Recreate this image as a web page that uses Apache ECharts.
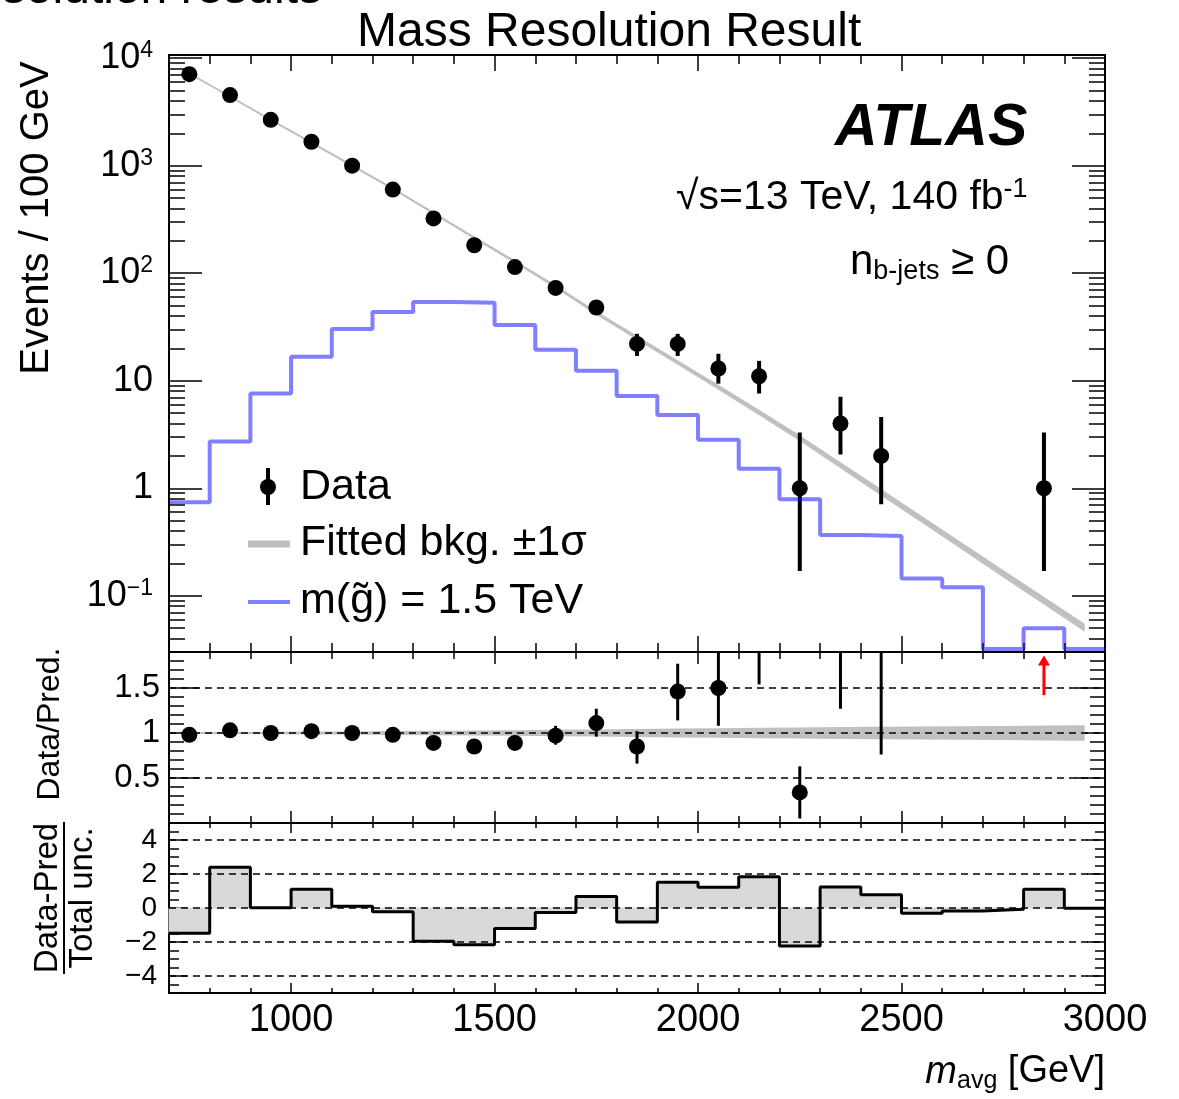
<!DOCTYPE html>
<html>
<head>
<meta charset="utf-8">
<script src="https://cdn.jsdelivr.net/npm/echarts@6.0.0/dist/echarts.min.js"></script>
<style>html,body{margin:0;padding:0;background:#fff}#main{width:1179px;height:1099px}</style>
</head>
<body>
<div id="main"></div>
<script>
// bins (100 GeV wide)
var binCenters = [750,850,950,1050,1150,1250,1350,1450,1550,1650,1750,1850,1950,2050,2150,2250,2350,2450,2550,2650,2750,2850,2950];
var binEdges = [700,800,900,1000,1100,1200,1300,1400,1500,1600,1700,1800,1900,2000,2100,2200,2300,2400,2500,2600,2700,2800,2900,3000];

// top panel
var dataCounts = [7100,4540,2670,1670,1000,600,323,182,114,73,48,22,22,13,11,1,4,2,null,null,null,1,null];
var dataLow  = [7016,4473,2618,1629,968,576,305,169,103.5,64.5,41.1,17.0,17.0,9.4,7.6,0.17,2.06,0.71,null,null,null,0.17,null];
var dataHigh = [7184,4607,2722,1711,1032,624,341,196,124.5,81.5,54.9,27.3,27.3,17.8,15.3,3.3,7.1,4.6,null,null,null,3.3,null];
var bkgFit = [7200,4400,2670,1640,1000,612,363,214,128,75,42.7,25.1,14.8,8.7,5.07,2.93,1.64,0.918,0.514,0.288,0.161,0.0904,0.0506];
var bkgRelUnc = [0.01,0.012,0.014,0.016,0.018,0.021,0.024,0.027,0.031,0.035,0.04,0.045,0.05,0.054,0.058,0.062,0.066,0.07,0.073,0.076,0.079,0.082,0.085];
var signal = [0.74,2.72,7.6,16.7,30.3,43.6,54,53,33,19.4,12.4,7.2,4.8,2.83,1.52,0.79,0.367,0.36,0.145,0.12,0.032,0.05,0.032];

// ratio panel
var ratioVals = [0.98,1.03,1.0,1.02,1.0,0.98,0.89,0.85,0.89,0.97,1.11,0.85,1.46,1.50,2.12,0.34,2.4,2.17,null,null,null,11,null];
var ratioLow  = [0.97,1.02,0.99,1.0,0.98,0.96,0.87,0.82,0.85,0.87,0.96,0.66,1.14,1.08,1.54,0.05,1.27,0.76,null,null,null,null,null];
var ratioHigh = [0.99,1.04,1.01,1.04,1.02,1.0,0.91,0.88,0.93,1.08,1.27,1.02,1.77,1.92,2.9,0.63,4.2,4.9,null,null,null,null,null];
var arrowX = [2850];
var arrowFrom = [1.42];
var arrowTo = [1.86];

// significance panel
var signif = [-1.49,2.39,0.02,1.10,0.10,-0.22,-1.96,-2.16,-1.20,-0.27,0.67,-0.82,1.51,1.22,1.84,-2.24,1.24,0.78,-0.31,-0.18,-0.08,1.10,-0.02];

// ticks
var xMajor = [1000,1500,2000,2500,3000];
var logMajor = [0.1,1,10,100,1000,10000];
var logMinor = [];
[0.01,0.1,1,10,100,1000].forEach(function (d) {
    for (var k = 2; k <= 9; k++) logMinor.push(+(k * d).toPrecision(3));
});
var ratioMajor = [0.5,1,1.5];
var ratioMinor = [0.1,0.2,0.3,0.4,0.6,0.7,0.8,0.9,1.1,1.2,1.3,1.4,1.6,1.7,1.8];
var ratioLines = [0.5,1,1.5];
var sigMajor = [-4,-2,0,2,4];
var sigMinor = [-4.5,-3.5,-3,-2.5,-1.5,-1,-0.5,0.5,1,1.5,2.5,3,3.5,4.5];
var sigLines = [-4,-2,0,2,4];

var FONT = "'Liberation Sans', Arial, sans-serif";
var myChart = echarts.init(document.getElementById('main'));

var xAxes = [], yAxes = [];
var lineBlack = {color:'#000', width:2};
var tickBlack = {color:'#000', width:1.5};

function addX(grid, pos, minorLen, majorLen, label) {
    xAxes.push({type:'value', gridIndex:grid, position:pos, min:700, max:3000, interval:100,
        axisLine:{onZero:false, lineStyle:lineBlack},
        axisTick:{inside:true, length:minorLen, lineStyle:tickBlack},
        axisLabel:{show:false}, splitLine:{show:false}});
    xAxes.push({type:'value', gridIndex:grid, position:pos, min:700, max:3000,
        axisLine:{show:false, onZero:false},
        axisTick:{inside:true, length:majorLen, customValues:xMajor, lineStyle:tickBlack},
        axisLabel:label ? {show:true, customValues:xMajor, color:'#000', fontSize:38, fontFamily:FONT, margin:9,
                           formatter:function (v) { return String(v); }} : {show:false},
        splitLine:{show:false}});
}

function addY(grid, pos, type, min, max, minorVals, majorVals, minorLen, majorLen, label) {
    var base = {type:type, gridIndex:grid, position:pos, min:min, max:max, splitLine:{show:false}};
    if (type === 'log') base.logBase = 10;
    yAxes.push(Object.assign({}, base, {
        axisLine:{onZero:false, lineStyle:lineBlack},
        axisTick:{inside:true, length:minorLen, customValues:minorVals, lineStyle:tickBlack},
        axisLabel:{show:false}}));
    var lab = {show:false};
    if (label) lab = Object.assign({show:true, customValues:majorVals, color:'#000', fontFamily:FONT}, label);
    yAxes.push(Object.assign({}, base, {
        axisLine:{show:false, onZero:false},
        axisTick:{inside:true, length:majorLen, customValues:majorVals, lineStyle:tickBlack},
        axisLabel:lab}));
}

function logLabel(v) {
    var e = Math.round(Math.log10(v));
    if (e === 0) return '1';
    if (e === 1) return '10';
    return '10{s|' + (e < 0 ? '\u2212' + (-e) : e) + '}';
}

// grid 0: top, grid 1: ratio, grid 2: significance
addX(0, 'bottom', 9, 16, false); addX(0, 'top', 9, 16, false);
addX(1, 'bottom', 7, 12, false); addX(1, 'top', 7, 12, false);
addX(2, 'bottom', 5, 10, true);  addX(2, 'top', 5, 10, false);

addY(0, 'left', 'log', 0.03, 10700, logMinor, logMajor, 16, 33,
    {fontSize:36, margin:16, formatter:logLabel,
     rich:{s:{fontSize:23, fontFamily:FONT, color:'#000', verticalAlign:'top', padding:[0,0,15,0]}}});
addY(0, 'right', 'log', 0.03, 10700, logMinor, logMajor, 16, 33, null);
addY(1, 'left', 'value', 0, 1.9, ratioMinor, ratioMajor, 15, 30,
    {fontSize:33, margin:9});
addY(1, 'right', 'value', 0, 1.9, ratioMinor, ratioMajor, 15, 30, null);
addY(2, 'left', 'value', -5, 5, sigMinor, sigMajor, 10, 18,
    {fontSize:28, margin:12, formatter:function (v) { return String(v).replace('-', '\u2212'); }});
addY(2, 'right', 'value', -5, 5, sigMinor, sigMajor, 10, 18, null);

// derived tables
var bkgLo = [], bkgHi = [], rLo = [], rHi = [];
for (var i = 0; i < binCenters.length; i++) {
    bkgLo.push(bkgFit[i] * (1 - bkgRelUnc[i]));
    bkgHi.push(bkgFit[i] * (1 + bkgRelUnc[i]));
    rLo.push(1 - bkgRelUnc[i]);
    rHi.push(1 + bkgRelUnc[i]);
}
var topPoints = [], topErr = [], ratioPoints = [], ratioErr = [];
for (var i = 0; i < binCenters.length; i++) {
    if (dataCounts[i] != null) topPoints.push([binCenters[i], dataCounts[i]]);
    if (dataLow[i] != null) topErr.push([binCenters[i], dataLow[i], dataHigh[i]]);
    if (ratioVals[i] != null) ratioPoints.push([binCenters[i], ratioVals[i]]);
    if (ratioLow[i] != null) ratioErr.push([binCenters[i], ratioLow[i], ratioHigh[i]]);
}
var bkgLine = binCenters.map(function (x, i) { return [x, bkgFit[i]]; });
var sigStep = binEdges.map(function (x, i) { return [x, signal[Math.min(i, signal.length - 1)]]; });
var signifStep = binEdges.map(function (x, i) { return [x, signif[Math.min(i, signif.length - 1)]]; });
var signifBars = signif.map(function (v, i) { return [binEdges[i], binEdges[i + 1], v]; });
var arrows = arrowX.map(function (x, i) { return [x, arrowFrom[i], arrowTo[i]]; });

function bandRender(xs, lo, hi, color) {
    return function (params, api) {
        if (params.dataIndex !== 0) return;
        var pts = [];
        for (var i = 0; i < xs.length; i++) pts.push(api.coord([xs[i], hi[i]]));
        for (var i = xs.length - 1; i >= 0; i--) pts.push(api.coord([xs[i], lo[i]]));
        return {type:'polygon', shape:{points:pts}, style:{fill:color}};
    };
}

function errRender(width) {
    return function (params, api) {
        var p1 = api.coord([api.value(0), api.value(1)]);
        var p2 = api.coord([api.value(0), api.value(2)]);
        return {type:'line', shape:{x1:p1[0], y1:p1[1], x2:p2[0], y2:p2[1]},
            style:{stroke:'#000', lineWidth:width}};
    };
}

var dashStyle = {color:'#000', type:[7,5], width:1.5};

var option = {
    animation: false,
    backgroundColor: '#fff',
    grid: [
        {left:169, top:55, width:936, height:597},
        {left:169, top:652, width:936, height:171},
        {left:169, top:823, width:936, height:170}
    ],
    xAxis: xAxes,
    yAxis: yAxes,
    series: [
        // top panel
        {type:'custom', xAxisIndex:0, yAxisIndex:0, z:1, clip:true,
         renderItem:bandRender(binCenters, bkgLo, bkgHi, '#c0c0c0'), data:[[binCenters[0], bkgFit[0]]]},
        {type:'line', xAxisIndex:0, yAxisIndex:0, z:2, data:bkgLine, showSymbol:false,
         lineStyle:{color:'#c0c0c0', width:2}},
        {type:'custom', xAxisIndex:0, yAxisIndex:0, z:3, clip:true,
         renderItem:errRender(4), data:topErr},
        {type:'scatter', xAxisIndex:0, yAxisIndex:0, z:4, data:topPoints, symbolSize:16,
         itemStyle:{color:'#000', opacity:1}},
        {type:'line', xAxisIndex:0, yAxisIndex:0, z:5, step:'end', data:sigStep, showSymbol:false,
         lineStyle:{color:'rgba(0,0,255,0.5)', width:4}},
        // ratio panel
        {type:'custom', xAxisIndex:4, yAxisIndex:4, z:1, clip:true,
         renderItem:bandRender(binCenters, rLo, rHi, '#c0c0c0'), data:[[binCenters[0], 1]]},
        {type:'custom', xAxisIndex:4, yAxisIndex:4, z:3, clip:true,
         renderItem:errRender(3), data:ratioErr},
        {type:'scatter', xAxisIndex:4, yAxisIndex:4, z:4, data:ratioPoints, symbolSize:16, clip:true,
         itemStyle:{color:'#000', opacity:1},
         markLine:{silent:true, symbol:['none','none'], label:{show:false}, lineStyle:dashStyle,
                   data:ratioLines.map(function (v) { return {yAxis:v}; })}},
        {type:'custom', xAxisIndex:4, yAxisIndex:4, z:5, data:arrows,
         renderItem:function (params, api) {
             var p1 = api.coord([api.value(0), api.value(1)]);
             var p2 = api.coord([api.value(0), api.value(2)]);
             return {type:'group', children:[
                 {type:'line', shape:{x1:p1[0], y1:p1[1], x2:p2[0], y2:p2[1] + 8}, style:{stroke:'#ff0000', lineWidth:3}},
                 {type:'polygon', shape:{points:[[p2[0] - 6, p2[1] + 10], [p2[0] + 6, p2[1] + 10], [p2[0], p2[1]]]}, style:{fill:'#ff0000'}}
             ]};
         }},
        // significance panel
        {type:'custom', xAxisIndex:8, yAxisIndex:8, z:1, data:signifBars,
         renderItem:function (params, api) {
             var a = api.coord([api.value(0), 0]);
             var b = api.coord([api.value(1), api.value(2)]);
             return {type:'rect', shape:{x:a[0], y:Math.min(a[1], b[1]), width:b[0] - a[0], height:Math.abs(b[1] - a[1])},
                 style:{fill:'#d9d9d9', stroke:'#d9d9d9', lineWidth:1}};
         }},
        {type:'line', xAxisIndex:8, yAxisIndex:8, z:3, step:'end', data:signifStep, showSymbol:false,
         lineStyle:{color:'#000', width:3},
         markLine:{silent:true, symbol:['none','none'], label:{show:false}, lineStyle:dashStyle,
                   data:sigLines.map(function (v) { return {yAxis:v}; })}}
    ],
    graphic: [
        {type:'text', x:322, y:14, style:{text:'solution results', fontSize:48, fontFamily:FONT, fill:'#000',
            textAlign:'right', textVerticalAlign:'bottom'}},
        {type:'text', x:357, y:33, style:{text:'Mass Resolution Result', fontSize:48, fontFamily:FONT, fill:'#000',
            textAlign:'left', textVerticalAlign:'middle'}},
        {type:'text', x:37, y:218, rotation:Math.PI / 2, style:{text:'Events / 100 GeV', fontSize:40, fontFamily:FONT,
            fill:'#000', textAlign:'center', textVerticalAlign:'middle'}},
        {type:'text', x:835, y:129, style:{text:'ATLAS', fontSize:59, fontWeight:'bold', fontStyle:'italic',
            fontFamily:FONT, fill:'#000', textAlign:'left', textVerticalAlign:'middle'}},
        {type:'text', x:676, y:198, style:{text:'\u221As=13 TeV, 140 fb{sup|-1}', fontSize:41, fontFamily:FONT, fill:'#000',
            textAlign:'left', textVerticalAlign:'middle',
            rich:{sup:{fontSize:27, fontFamily:FONT, fill:'#000', verticalAlign:'top', padding:[0,0,16,0]}}}},
        {type:'text', x:850, y:262, style:{text:'n{sub|b-jets} \u2265 0', fontSize:42, fontFamily:FONT, fill:'#000',
            textAlign:'left', textVerticalAlign:'middle',
            rich:{sub:{fontSize:27, fontFamily:FONT, fill:'#000', verticalAlign:'bottom', padding:[20,0,0,0]}}}},
        // legend
        {type:'line', shape:{x1:268, y1:468, x2:268, y2:505}, style:{stroke:'#000', lineWidth:4}},
        {type:'circle', shape:{cx:268, cy:487, r:8}, style:{fill:'#000'}},
        {type:'text', x:300, y:487, style:{text:'Data', fontSize:43, fontFamily:FONT, fill:'#000',
            textAlign:'left', textVerticalAlign:'middle'}},
        {type:'line', shape:{x1:248, y1:544, x2:290, y2:544}, style:{stroke:'#c0c0c0', lineWidth:7}},
        {type:'text', x:300, y:543, style:{text:'Fitted bkg. \u00B11\u03C3', fontSize:43, fontFamily:FONT, fill:'#000',
            textAlign:'left', textVerticalAlign:'middle'}},
        {type:'line', shape:{x1:248, y1:602, x2:290, y2:602}, style:{stroke:'rgba(0,0,255,0.5)', lineWidth:4}},
        {type:'text', x:300, y:601, style:{text:'m(g\u0303) = 1.5 TeV', fontSize:43, fontFamily:FONT, fill:'#000',
            textAlign:'left', textVerticalAlign:'middle'}},
        // lower panel titles
        {type:'text', x:50, y:724, rotation:Math.PI / 2, style:{text:'Data/Pred.', fontSize:32, fontFamily:FONT,
            fill:'#000', textAlign:'center', textVerticalAlign:'middle'}},
        {type:'group', x:64, y:898, rotation:Math.PI / 2, children:[
            {type:'text', x:0, y:-16, style:{text:'Data-Pred', fontSize:33, fontFamily:FONT, fill:'#000',
                textAlign:'center', textVerticalAlign:'middle'}},
            {type:'text', x:0, y:19, style:{text:'Total unc.', fontSize:33, fontFamily:FONT, fill:'#000',
                textAlign:'center', textVerticalAlign:'middle'}},
            {type:'line', shape:{x1:-76, y1:0, x2:76, y2:0}, style:{stroke:'#000', lineWidth:2}}
        ]},
        {type:'text', x:1105, y:1072, style:{text:'{i|m}{sub|avg} [GeV]', fontSize:38, fontFamily:FONT, fill:'#000',
            textAlign:'right', textVerticalAlign:'middle',
            rich:{i:{fontSize:38, fontStyle:'italic', fontFamily:FONT, fill:'#000'},
                  sub:{fontSize:25, fontFamily:FONT, fill:'#000', verticalAlign:'bottom', padding:[18,0,0,0]}}}}
    ]
};

myChart.setOption(option);
</script>
</body>
</html>
